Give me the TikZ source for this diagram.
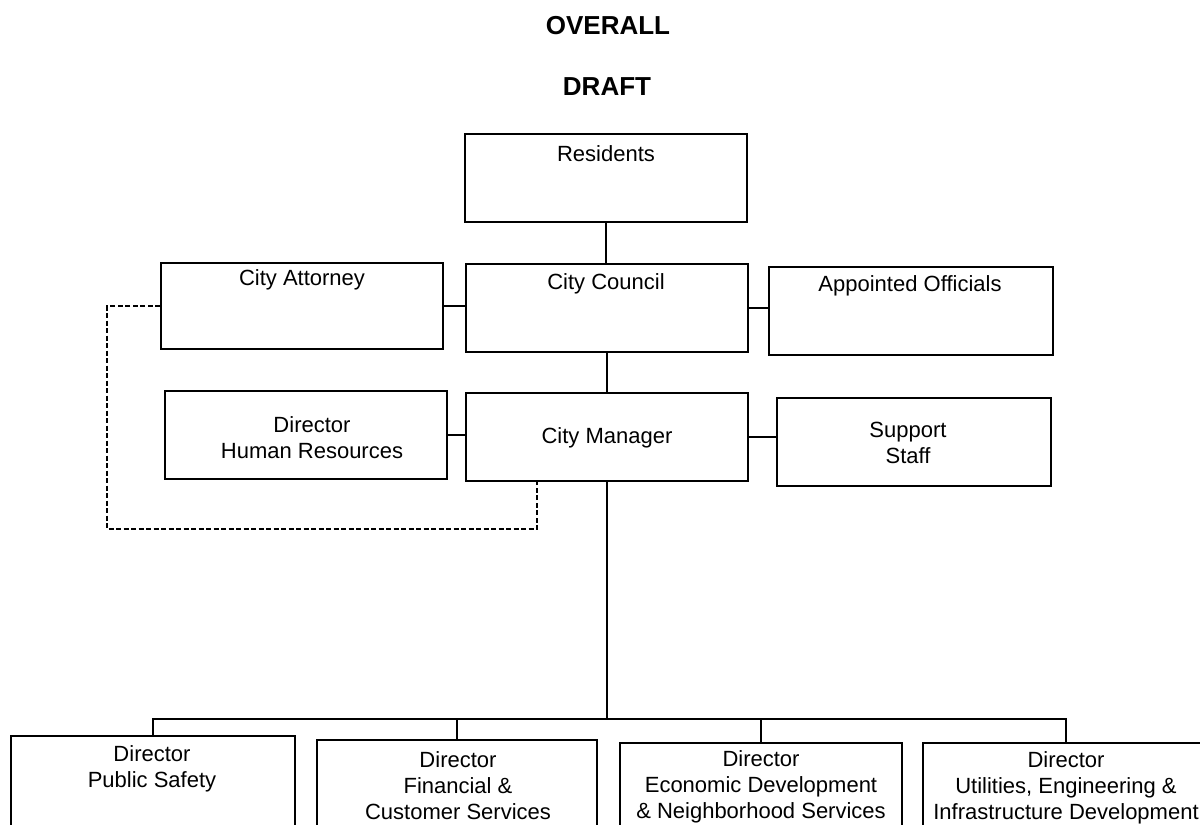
\documentclass[tikz,border=0pt]{standalone}
\usepackage{fontspec}
\setmainfont{Liberation Sans}
\begin{document}
\begin{tikzpicture}[x=1pt,y=-1pt,
  box/.style={draw, line width=2pt, inner sep=0pt, rectangle},
  lab/.style={font=\fontsize{22}{26}\selectfont, align=center, inner sep=0pt},
  conn/.style={line width=2pt},
  dconn/.style={line width=2pt, dash pattern=on 5pt off 2.5pt},
  ttl/.style={font=\fontsize{26}{30}\selectfont\bfseries, inner sep=0pt}]
\useasboundingbox (0,0) rectangle (1200,825);
\clip (0,0) rectangle (1200,825);
\fill[white] (0,0) rectangle (1200,825);
% titles
\node[ttl] (t1) at (608,26) {OVERALL};
\node[ttl] (t2) at (607,87) {DRAFT};
% boxes
\node[box, minimum width=282pt, minimum height=88pt] (res) at (606,178) {};
\node[box, minimum width=282pt, minimum height=86pt] (att) at (302,306) {};
\node[box, minimum width=282pt, minimum height=88pt] (council) at (607,308) {};
\node[box, minimum width=284pt, minimum height=88pt] (appt) at (911,311) {};
\node[box, minimum width=282pt, minimum height=88pt] (hr) at (306,435) {};
\node[box, minimum width=282pt, minimum height=88pt] (mgr) at (607,437) {};
\node[box, minimum width=274pt, minimum height=88pt] (sup) at (914,442) {};
\node[box, minimum width=284pt, minimum height=144pt] (ps) at (153,808) {};
\node[box, minimum width=280pt, minimum height=140pt] (fin) at (457,810) {};
\node[box, minimum width=282pt, minimum height=138pt] (eco) at (761,812) {};
\node[box, minimum width=286pt, minimum height=138pt] (util) at (1066,812) {};
% labels
\node[lab] (resl) at (606,154) {Residents};
\node[lab] (attl) at (302,280) {City Attorney};
\node[lab] (coul) at (606,284) {City Council};
\node[lab] (appl) at (910,286) {Appointed Officials};
\node[lab] (hrl) at (312,438) {Director\\Human Resources};
\node[lab] (mgrl) at (607,438) {City Manager};
\node[lab] (supl) at (908,443) {Support\\Staff};
\node[lab] (psl) at (152,769) {Director\\Public Safety};
\node[lab] (finl) at (458,786) {Director\\Financial \&\\Customer Services};
\node[lab] (ecol) at (761,787) {Director\\Economic Development\\\& Neighborhood Services};
\node[lab] (utill) at (1066,788) {Director\\Utilities, Engineering \&\\Infrastructure Development};
% connectors
\draw[conn] (res.south) -- (res.south |- council.north);
\draw[conn] (council.south) -- (mgr.north);
\draw[conn] (att.east) -- (att.east -| council.west);
\draw[conn] (council.east) -- (council.east -| appt.west);
\draw[conn] (hr.east) -- (hr.east -| mgr.west);
\draw[conn] (mgr.east) -- (mgr.east -| sup.west);
\coordinate (bus) at (0,719);
\draw[conn] (mgr.south) -- (mgr.south |- bus);
\draw[conn] (ps.north) -- (ps.north |- bus) -- (util.north |- bus) -- (util.north);
\draw[conn] (fin.north |- bus) -- (fin.north);
\draw[conn] (eco.north |- bus) -- (eco.north);
% dashed link
\coordinate (dl) at (107,0);
\coordinate (db) at (0,529);
\coordinate (dx) at (537,0);
\draw[dconn] (att.west) -- (att.west -| dl) -- (dl |- db) -- (dx |- db) -- (mgr.south -| dx);
\end{tikzpicture}
\end{document}
